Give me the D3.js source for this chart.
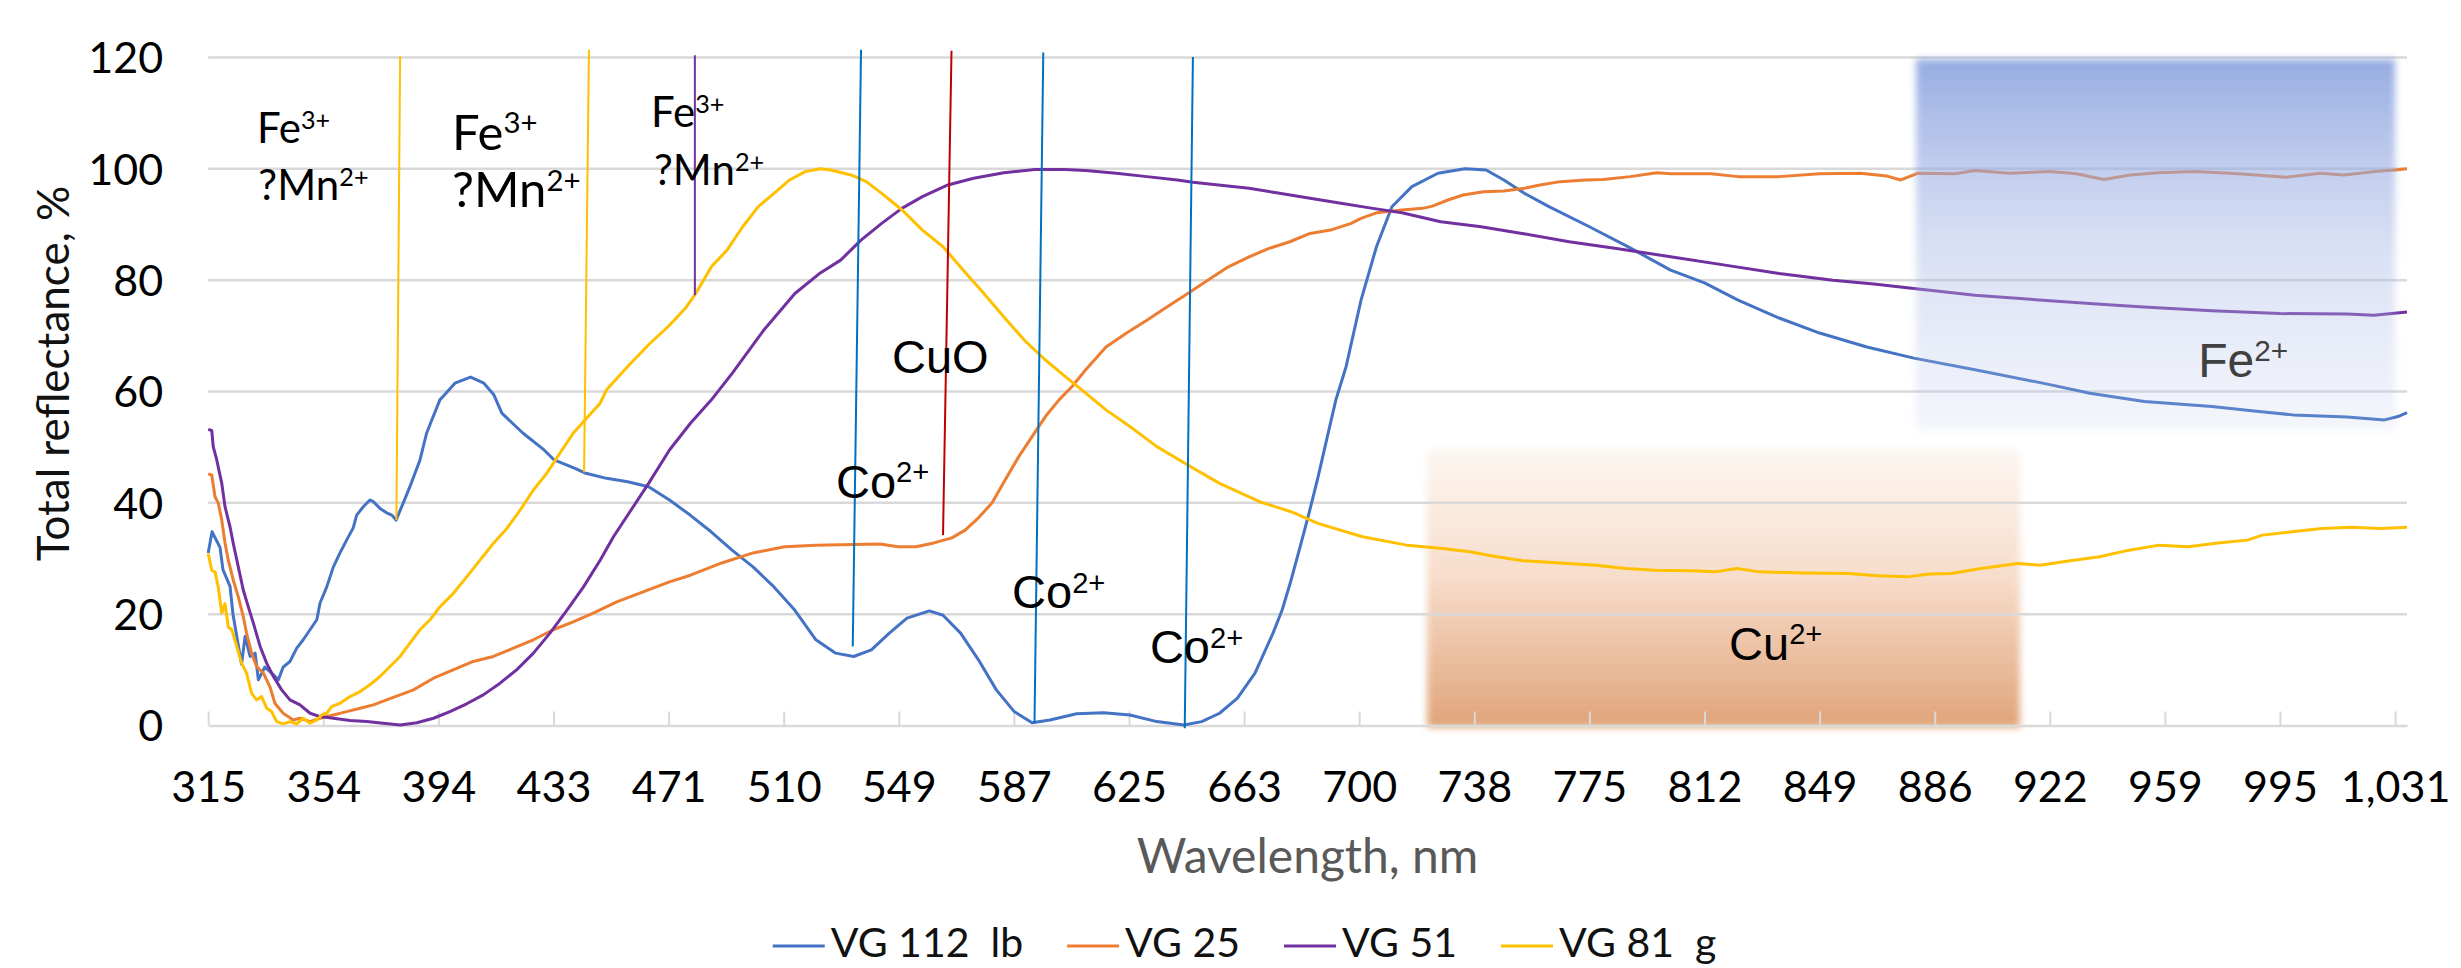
<!DOCTYPE html>
<html>
<head>
<meta charset="utf-8">
<script src="https://cdn.jsdelivr.net/npm/d3@7"></script>
<style>
  body { margin: 0; background: #fff; }
  svg { display: block; font-family: Lato, "Open Sans", sans-serif; }
</style>
</head>
<body>
<svg id="chart"></svg>
<script>
// axis labels (category axis: labels are evenly spaced, wavelengths are not)
const xTicks = [315, 354, 394, 433, 471, 510, 549, 587, 625, 663, 700, 738, 775, 812, 849, 886, 922, 959, 995, 1031];
const yTicks = [0, 20, 40, 60, 80, 100, 120];

const seriesNames = ["VG 112  lb", "VG 25", "VG 51", "VG 81  g"];

// [wavelength nm, reflectance %]
const vg112 = [[315.0,31],[316.3,34.8],[319.0,32],[320.0,28],[322.4,25],[323.4,20],[326.3,11],[327.5,16],[329.2,12.4],[330.9,13],[332.0,8.2],[334.2,10.5],[336.5,9.4],[338.8,8.2],[340.4,10.5],[342.7,11.5],[345.0,13.9],[347.2,15.4],[349.5,17.2],[351.8,19],[352.9,22],[355.2,24.9],[357.5,28.5],[359.8,31],[362.1,33.3],[364.4,35.5],[365.6,37.8],[367.9,39.3],[370.2,40.5],[371.4,40.2],[373.7,39],[376.0,38.2],[377.8,37.8],[379.3,36.9],[381.8,40],[384.1,42.9],[387.6,47.7],[389.9,52.5],[392.2,55.5],[394.5,58.5],[396.1,59.4],[399.6,61.5],[404.9,62.6],[409.4,61.5],[412.8,59.4],[415.5,56.1],[422.7,52.5],[429.8,49.5],[433.2,47.7],[440.1,46.2],[443.7,45.3],[450.5,44.4],[457.5,43.8],[464.4,42.9],[471.3,40.5],[478.3,37.8],[485.4,34.8],[492.5,31.5],[499.6,28.5],[506.7,24.9],[513.8,20.7],[520.9,15.4],[527.6,13],[533.7,12.4],[539.7,13.6],[545.8,16.6],[551.7,19.3],[559.1,20.6],[563.6,19.8],[569.4,16.6],[575.3,11.8],[581.2,6.4],[587.1,2.5],[593.0,0.5],[598.9,1],[607.7,2.1],[616.6,2.3],[625.3,1.9],[634.2,0.7],[643.1,0.1],[649.0,0.7],[654.9,2.2],[660.8,4.9],[666.5,9.4],[672.3,16.6],[675.2,20.7],[678.1,26.1],[681.0,32.1],[683.9,38.2],[686.8,44.7],[689.6,51.5],[692.5,58.5],[695.8,64.5],[700.6,76.4],[705.7,86],[710.8,93.2],[717.4,96.8],[726.0,99.2],[734.9,100],[741.8,99.8],[747.5,98],[754.1,95.6],[762.0,93.2],[775.0,89.6],[788.1,85.8],[801.1,81.8],[812.0,79.5],[822.8,76.4],[836.0,73.2],[849.0,70.5],[864.2,68],[879.3,66],[898.6,63.9],[919.8,61.5],[934.9,59.7],[952.4,58.2],[973.7,57.3],[988.4,56.4],[999.1,55.8],[1016.0,55.4],[1027.7,54.9],[1031.9,55.5],[1034.7,56.2]];

const vg25 = [[315.0,45.2],[316.2,45],[317.3,41.1],[318.4,40],[319.6,36.9],[320.7,32.8],[321.8,29.7],[323.5,26.1],[325.2,23.1],[326.9,19.5],[328.0,16.6],[329.7,13],[331.4,10.6],[333.7,9.4],[335.9,7],[337.6,4],[340.4,2.2],[343.8,1],[346.1,1.3],[349.5,0.7],[352.9,1.3],[357.5,1.9],[362.1,2.5],[366.8,3.1],[371.4,3.7],[376.0,4.6],[380.7,5.5],[385.3,6.4],[392.3,8.5],[399.0,10],[405.8,11.5],[412.6,12.4],[419.4,13.9],[426.2,15.4],[432.9,17.2],[439.5,18.6],[446.1,20.2],[453.9,22.2],[471.3,25.8],[478.4,27],[489.0,29.2],[499.6,31],[510.3,32.1],[520.9,32.4],[533.7,32.5],[542.6,32.6],[548.7,32.1],[554.7,32.1],[560.6,32.8],[566.5,33.7],[570.9,35.1],[575.3,37.3],[579.8,40],[584.1,44.1],[588.6,48.3],[593.0,51.9],[597.4,55.5],[601.9,58.5],[606.2,60.9],[610.7,63.9],[617.4,68],[624.2,70.5],[630.9,72.8],[637.5,75.2],[644.4,77.6],[651.0,80],[657.8,82.4],[664.6,84.2],[671.0,85.7],[677.7,86.9],[684.2,88.4],[690.8,89],[697.4,90.2],[700.6,91.1],[705.7,92.1],[714.1,92.6],[720.9,92.9],[724.2,93.3],[729.3,94.4],[734.3,95.3],[741.0,95.9],[747.5,96],[754.1,96.5],[759.1,97.1],[765.6,97.7],[773.8,98],[779.4,98.1],[788.1,98.6],[796.7,99.3],[801.1,99.1],[814.1,99.1],[822.8,98.6],[836.0,98.6],[849.0,99.1],[862.0,99.2],[870.7,98.7],[875.1,98],[880.5,99.2],[892.3,99.1],[898.6,99.7],[909.3,99.2],[921.9,99.5],[930.6,99.1],[939.3,98.1],[948.0,98.9],[956.7,99.3],[968.4,99.5],[982.2,99.1],[996.9,98.5],[1007.5,99.2],[1015.0,98.9],[1024.4,99.5],[1030.9,99.8],[1034.7,100]];

const vg51 = [[315.0,53.2],[316.2,53],[316.7,50.1],[317.9,47.7],[319.6,43.5],[320.7,39.3],[322.4,35.7],[323.5,32.7],[325.2,28.5],[326.9,24.3],[328.6,21.3],[330.3,18.4],[332.6,14.2],[334.8,11.2],[337.1,8.8],[339.9,6.4],[342.7,4.6],[346.1,3.7],[349.5,2.2],[352.9,1.6],[357.5,1.3],[363.3,0.9],[369.1,0.7],[374.8,0.4],[380.7,0.1],[386.5,0.5],[392.3,1.3],[397.9,2.5],[403.6,3.9],[409.2,5.5],[414.9,7.6],[420.5,10],[426.2,13],[431.8,16.6],[437.4,20.7],[442.9,24.9],[448.4,29.7],[452.8,33.9],[464.4,43.5],[471.3,49.5],[478.4,54.3],[485.5,58.5],[492.6,63.3],[503.2,71],[513.8,77.6],[522.4,81.3],[529.3,83.6],[536.2,87.2],[543.2,90.2],[550.0,92.9],[556.8,95],[565.2,97.1],[573.7,98.3],[583.7,99.3],[593.9,99.9],[603.9,99.9],[610.7,99.7],[620.8,99.2],[630.9,98.6],[641.0,98],[646.1,97.6],[654.5,97.1],[664.6,96.5],[674.4,95.6],[684.2,94.7],[694.1,93.8],[704.5,92.9],[714.1,92.1],[726.9,90.5],[740.2,89.6],[753.3,88.4],[768.5,86.9],[783.7,85.7],[801.1,84.2],[818.6,82.7],[836.0,81.2],[853.3,80],[866.4,79.3],[879.3,78.5],[898.6,77.3],[919.8,76.4],[937.1,75.7],[952.2,75.2],[973.7,74.5],[994.9,74],[1016.0,73.9],[1024.4,73.7],[1034.7,74.3]];

const vg81 = [[315.0,30.9],[316.2,27.9],[317.3,27.6],[318.4,24.9],[319.6,20.2],[320.7,21.9],[321.8,17.7],[323.0,17.2],[324.7,14.2],[326.3,11.2],[328.0,9.4],[329.7,5.8],[331.4,4.6],[333.1,5.2],[334.8,3.1],[336.5,2.5],[338.2,0.7],[340.4,0.3],[342.7,0.7],[345.0,0.3],[347.2,1.3],[349.5,0.4],[351.8,1],[353.5,1.9],[355.2,2.2],[356.9,3.4],[359.8,4],[363.3,5.2],[366.8,6.1],[370.2,7.3],[373.7,8.8],[377.2,10.6],[380.7,12.4],[384.1,14.8],[387.6,17.2],[391.1,19],[394.5,21.3],[399.0,23.7],[403.6,26.7],[408.1,29.7],[412.6,32.7],[417.2,35.4],[421.7,38.7],[426.2,42.3],[430.7,45.3],[435.1,48.9],[439.5,52.5],[443.9,55.2],[448.4,57.9],[450.5,60.3],[457.5,64.5],[464.4,68.4],[471.3,71.9],[476.6,74.9],[480.2,77.6],[485.5,82.4],[490.8,85.4],[496.1,89.6],[501.4,93.2],[506.7,95.6],[512.0,98],[517.3,99.5],[522.4,100],[525.9,99.8],[532.8,98.9],[538.0,97.7],[543.2,95.6],[550.1,92.6],[556.8,89],[563.6,86],[570.3,81.8],[577.1,77.6],[583.7,73.4],[590.5,69.2],[597.3,65.7],[603.9,62.7],[610.7,59.7],[617.4,56.7],[625.3,53.7],[634.2,50.1],[644.4,46.8],[654.9,43.5],[668.0,40.2],[678.1,38.4],[686.7,36.3],[701.1,33.9],[715.7,32.4],[727.6,31.8],[736.4,31.2],[745.3,30.3],[753.6,29.6],[765.6,29.2],[777.1,28.8],[786.7,28.2],[796.1,27.9],[808.1,27.8],[815.3,27.6],[822.4,28.2],[829.6,27.6],[843.9,27.4],[858.2,27.3],[867.7,26.9],[877.2,26.7],[884.3,27.2],[891.2,27.3],[900.4,28.2],[912.0,29.1],[918.9,28.8],[928.5,29.6],[938.0,30.3],[947.5,31.5],[957.1,32.4],[966.3,32.1],[975.6,32.8],[984.8,33.3],[989.5,34.2],[998.7,34.8],[1008.1,35.4],[1017.3,35.6],[1026.6,35.4],[1034.7,35.6]];

// hand-drawn marker lines: [top, bottom] in [nm, %]
const markerLines = [
  [[380.7, 120.3], [379.4, 36.9]],
  [[444.7, 121.4], [443.1, 45.5]],
  [[479.9, 120.4], [479.9, 77.3]],
  [[536.2, 121.4], [533.4, 14.2]],
  [[566.4, 121.2], [563.6, 34.2]],
  [[596.7, 120.9], [593.8, 0.4]],
  [[646.1, 120.1], [643.4, -0.5]]
];

// shaded absorption bands: [nm from, nm to, % low, % high]
const bands = [
  [880.0, 1031.0, 53.1, 119.7],   // Fe2+
  [722.4, 912.7, -0.4, 49.5]      // Cu2+
];

// ion labels: text, superscript, anchor [nm, % at baseline]
const fe3Labels = [
  ["Fe", "3+", [331.5, 104.6]], ["?Mn", "2+", [332.0, 94.4]],
  ["Fe", "3+", [398.6, 103.4]], ["?Mn", "2+", [398.6, 93.1]],
  ["Fe", "3+", [465.2, 107.5]], ["?Mn", "2+", [466.2, 97.1]]
];
const otherLabels = [
  ["CuO", "", [546.7, 63.3]],
  ["Co", "2+", [527.7, 40.9]],
  ["Co", "2+", [586.4, 21.1]],
  ["Co", "2+", [631.9, 11.2]],
  ["Cu", "2+", [819.9, 11.8]],
  ["Fe", "2+", [969.4, 62.6]]
];

const W = 2461, H = 968;
const svg = d3.select("#chart").attr("width", W).attr("height", H);

const series = [vg112, vg25, vg51, vg81];
const colors = ["#4472C4", "#ED7D31", "#7030A0", "#FFC000"];
const markerColors = ["#FFC000", "#FFC000", "#7030A0", "#0070C0", "#C00000", "#0070C0", "#0070C0"];

// plot frame
const left = 208.2, right = 2407, step = 115.1;
const xMax = d3.max(series, s => d3.max(s, d => d[0]));
const x = d3.scaleLinear()
  .domain([...xTicks, xMax])
  .range([...xTicks.map((d, i) => left + i * step), right]);
const y = d3.scaleLinear().domain([0, 120]).range([725.5, 57.5]);

// gradients + soft edge
const defs = svg.append("defs");
const feGrad = defs.append("linearGradient").attr("id", "feGrad").attr("x1", 0).attr("y1", 0).attr("x2", 0).attr("y2", 1);
[[0, "#7894DA", 0.78], [0.5, "#A9B9E6", 0.45], [1, "#B8C4E8", 0.16]].forEach(s =>
  feGrad.append("stop").attr("offset", s[0]).attr("stop-color", s[1]).attr("stop-opacity", s[2]));
const cuGrad = defs.append("linearGradient").attr("id", "cuGrad").attr("x1", 0).attr("y1", 0).attr("x2", 0).attr("y2", 1);
[[0, "#FCF6F1"], [0.45, "#F7DDCB"], [1, "#E0A47A"]].forEach(s =>
  cuGrad.append("stop").attr("offset", s[0]).attr("stop-color", s[1]));
defs.append("filter").attr("id", "soft").attr("x", "-5%").attr("y", "-5%").attr("width", "110%").attr("height", "110%")
  .append("feGaussianBlur").attr("stdDeviation", 3.5);

function bandRect(b, fill) {
  return svg.append("rect")
    .attr("x", x(b[0])).attr("width", x(b[1]) - x(b[0]))
    .attr("y", y(b[3])).attr("height", y(b[2]) - y(b[3]))
    .attr("fill", fill).attr("filter", "url(#soft)");
}

// Cu2+ band sits under the grid
bandRect(bands[1], "url(#cuGrad)");

// gridlines
svg.append("g").selectAll("line").data(yTicks.filter(v => v > 0)).join("line")
  .attr("x1", left).attr("x2", right)
  .attr("y1", d => y(d)).attr("y2", d => y(d))
  .attr("stroke", "#D9D9D9").attr("stroke-width", 2.5);

// x axis, ticks pointing up into the plot
const xAxis = svg.append("g")
  .attr("transform", `translate(0,${y(0)})`)
  .call(d3.axisBottom(x).tickValues(xTicks).tickFormat(d3.format(",")).tickSizeInner(-14).tickSizeOuter(0));
xAxis.select(".domain").attr("stroke", "#D9D9D9").attr("stroke-width", 2.5);
xAxis.selectAll(".tick line").attr("stroke", "#D9D9D9").attr("stroke-width", 2);
xAxis.selectAll(".tick text")
  .attr("y", 76).attr("dy", null)
  .attr("font-family", "Lato, sans-serif").attr("font-size", 43).attr("fill", "#000");

// y axis labels only
const yAxis = svg.append("g")
  .attr("transform", `translate(${left},0)`)
  .call(d3.axisLeft(y).tickValues(yTicks).tickSize(0).tickPadding(45));
yAxis.select(".domain").remove();
yAxis.selectAll(".tick text")
  .attr("dy", "0.36em")
  .attr("font-family", "Lato, sans-serif").attr("font-size", 43).attr("fill", "#000");

// spectra
const line = d3.line().x(d => x(d[0])).y(d => y(d[1]));
svg.append("g").selectAll("path").data(series).join("path")
  .attr("d", line)
  .attr("fill", "none")
  .attr("stroke", (d, i) => colors[i])
  .attr("stroke-width", 3)
  .attr("stroke-linejoin", "round");

// marker lines
svg.append("g").selectAll("line").data(markerLines).join("line")
  .attr("x1", d => x(d[0][0])).attr("y1", d => y(d[0][1]))
  .attr("x2", d => x(d[1][0])).attr("y2", d => y(d[1][1]))
  .attr("stroke", (d, i) => markerColors[i])
  .attr("stroke-width", 2);

// Fe2+ band drawn over the curves (they show through faded)
bandRect(bands[0], "url(#feGrad)");

// labels with superscript
function ionText(d, size, family, color, ratio, lift) {
  const t = svg.append("text")
    .attr("x", x(d[2][0])).attr("y", y(d[2][1]))
    .attr("font-family", family).attr("font-size", size).attr("fill", color);
  t.append("tspan").text(d[0]);
  if (d[1]) t.append("tspan").attr("font-size", size * ratio).attr("dy", -size * lift).text(d[1]);
}
const feSizes = [42, 42, 49, 49, 42, 42];
fe3Labels.forEach((d, i) => ionText(d, feSizes[i], "Lato, sans-serif", "#000", 0.6, 0.34));
otherLabels.forEach((d, i) =>
  ionText(d, i === 5 ? 48 : 47, "'Liberation Sans', Arial, sans-serif", i === 5 ? "#404040" : "#000", 0.62, 0.33));

// axis titles
svg.append("text")
  .attr("transform", "translate(69,373.5) rotate(-90)")
  .attr("text-anchor", "middle")
  .attr("font-size", 44).attr("fill", "#111")
  .text("Total reflectance, %");
svg.append("text")
  .attr("x", 1307.5).attr("y", 873)
  .attr("text-anchor", "middle")
  .attr("font-size", 48).attr("fill", "#595959")
  .text("Wavelength, nm");

// legend
const legend = svg.append("g");
let lx = 0;
seriesNames.forEach((name, i) => {
  const item = legend.append("g").attr("transform", `translate(${lx},0)`);
  item.append("line").attr("x1", 0).attr("x2", 52).attr("y1", 946).attr("y2", 946)
    .attr("stroke", colors[i]).attr("stroke-width", 3);
  const t = item.append("text").attr("x", 58).attr("y", 957)
    .attr("font-size", 41).attr("fill", "#111")
    .style("white-space", "pre")
    .text(name);
  lx += 58 + t.node().getComputedTextLength() + 44;
});
legend.attr("transform", `translate(${1244.5 - (lx - 44) / 2},0)`);
</script>
</body>
</html>
